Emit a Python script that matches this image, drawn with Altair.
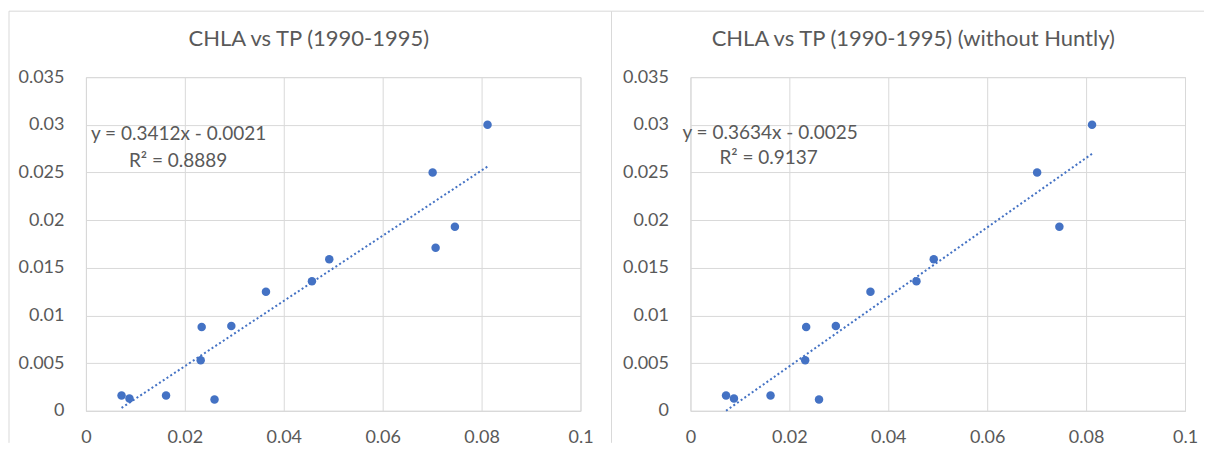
import altair as alt
import pandas as pd

# ---- data ----
tp_all = [0.0072, 0.0088, 0.0162, 0.0234, 0.0232, 0.0260, 0.0294, 0.0364,
          0.0457, 0.0492, 0.0701, 0.0707, 0.0746, 0.0812]
chla_all = [0.0016, 0.0013, 0.0016, 0.0088, 0.0053, 0.0012, 0.0089, 0.0125,
            0.0136, 0.0159, 0.0250, 0.0171, 0.0193, 0.0300]

tp_no_huntly = [0.0072, 0.0088, 0.0162, 0.0234, 0.0232, 0.0260, 0.0294, 0.0364,
                0.0457, 0.0492, 0.0701, 0.0746, 0.0812]
chla_no_huntly = [0.0016, 0.0013, 0.0016, 0.0088, 0.0053, 0.0012, 0.0089, 0.0125,
                  0.0136, 0.0159, 0.0250, 0.0193, 0.0300]

titles = ["CHLA vs TP (1990-1995)", "CHLA vs TP (1990-1995) (without Huntly)"]
equations = ["y = 0.3412x - 0.0021", "y = 0.3634x - 0.0025"]
r_squared = ["R² = 0.8889", "R² = 0.9137"]

x_ticks = [0, 0.02, 0.04, 0.06, 0.08, 0.1]
y_ticks = [0, 0.005, 0.01, 0.015, 0.02, 0.025, 0.03, 0.035]

FONT = "Lato"
TXT = "#595959"
GRID = "#d9d9d9"
BLUE = "#4472C4"
W, H = 495, 334
TOP = -66      # top border, relative to the plot's top
BOTTOM = 366   # where the side borders stop


def edge(x, x2, y, y2):
    return alt.Chart(pd.DataFrame({"k": [0]})).mark_rule(
        color=GRID, strokeWidth=1
    ).encode(x=alt.value(x), x2=alt.value(x2), y=alt.value(y), y2=alt.value(y2))


def panel(tp, chla, title, eq, r2, box_left, box_right, eq_pos, r2_pos):
    df = pd.DataFrame({"TP": tp, "CHLA": chla})
    xs = alt.Scale(domain=[0, 0.1], nice=False, zero=True)
    ys = alt.Scale(domain=[0, 0.035], nice=False, zero=True)
    xax = alt.Axis(values=x_ticks, format="~g", title=None, ticks=False,
                   labelPadding=18, grid=True, labelFlush=False)
    yax = alt.Axis(values=y_ticks, format="~g", title=None, ticks=False,
                   labelPadding=22, grid=True, domain=False, labelFlush=False)

    top_edge = edge(box_left, box_right, TOP, TOP)
    side_edge = edge(box_left, box_left, TOP, BOTTOM)

    ttl = alt.Chart(pd.DataFrame({"t": [title]})).mark_text(
        font=FONT, fontSize=22, color=TXT, align="center", baseline="middle"
    ).encode(text="t:N", x=alt.value(223), y=alt.value(-38))

    pts = alt.Chart(df).mark_circle(size=72, color=BLUE, opacity=1).encode(
        x=alt.X("TP:Q", scale=xs, axis=xax),
        y=alt.Y("CHLA:Q", scale=ys, axis=yax),
    )

    trend = alt.Chart(df).transform_regression("TP", "CHLA").mark_line(
        color=BLUE, strokeWidth=2, strokeDash=[2, 2.5]
    ).encode(x=alt.X("TP:Q", scale=xs), y=alt.Y("CHLA:Q", scale=ys))

    eq_t = alt.Chart(pd.DataFrame({"t": [eq]})).mark_text(
        font=FONT, fontSize=19, color=TXT, align="left", baseline="middle"
    ).encode(text="t:N", x=alt.value(eq_pos[0]), y=alt.value(eq_pos[1]))

    r2_t = alt.Chart(pd.DataFrame({"t": [r2]})).mark_text(
        font=FONT, fontSize=19, color=TXT, align="left", baseline="middle"
    ).encode(text="t:N", x=alt.value(r2_pos[0]), y=alt.value(r2_pos[1]))

    return alt.layer(top_edge, side_edge, pts, trend, eq_t, r2_t, ttl).properties(
        width=W, height=H)


left = panel(tp_all, chla_all, titles[0], equations[0], r_squared[0],
             -77, 526, (5, 57), (43, 84))
right = panel(tp_no_huntly, chla_no_huntly, titles[1], equations[1], r_squared[1],
              -79, 514, (-8, 56), (29, 81))

chart = alt.hconcat(left, right, spacing=110, bounds="flush").properties(
    padding={"left": 0, "top": 2, "right": 0, "bottom": 0}
).configure(font=FONT, background="white").configure_axis(
    labelFont=FONT, labelFontSize=18, labelColor=TXT, gridColor=GRID,
    gridWidth=1, domainColor=GRID, domainWidth=1
).configure_view(stroke=GRID)

chart.save("out.html", embed_options={"renderer": "svg", "actions": False})
